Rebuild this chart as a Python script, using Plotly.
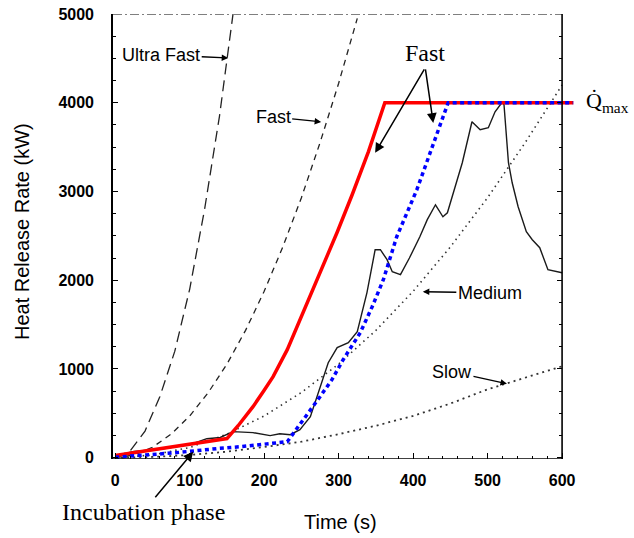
import plotly.graph_objects as go

# ---------------- data ----------------
t_ultra = [0, 20, 40, 60, 80, 100, 120, 140, 158]
q_ultra = [0, 75, 300, 690, 1200, 1900, 2800, 3850, 4990]

t_fast = [0, 25, 50, 75, 100, 125, 150, 175, 200, 225, 250, 275, 300, 325]
q_fast = [0, 30, 117, 265, 470, 735, 1055, 1435, 1875, 2375, 2930, 3550, 4220, 4950]

t_medium = [0, 50, 100, 150, 200, 250, 300, 350, 400, 450, 500, 550, 600]
q_medium = [0, 30, 115, 265, 470, 735, 1055, 1435, 1875, 2375, 2930, 3545, 4200]

t_slow = [0, 50, 100, 150, 200, 250, 300, 350, 400, 450, 500, 550, 600]
q_slow = [0, 8, 30, 68, 120, 180, 265, 360, 470, 610, 770, 900, 1030]

t_exp = [0, 15, 25, 60, 83, 105, 123, 141, 158, 185, 208, 221, 235, 248, 262, 275,
         286, 298, 313, 325, 338, 349, 356, 365, 372, 383, 395, 409, 419, 430, 440,
         446, 454, 466, 479, 490, 501, 510, 519, 522, 528, 533, 541, 552, 560, 570,
         581, 593, 600]
q_exp = [5, 50, 70, 95, 124, 160, 214, 228, 293, 282, 248, 270, 259, 315, 462, 800,
         1070, 1240, 1296, 1420, 1860, 2344, 2344, 2231, 2096, 2062, 2250, 2490, 2682,
         2850, 2715, 2760, 2986, 3324, 3786, 3696, 3718, 3898, 4000, 3980, 3324, 3098,
         2828, 2546, 2456, 2366, 2118, 2096, 2084]

t_red = [0, 150, 165, 185, 200, 212, 231, 252, 275, 298, 318, 340, 362, 615]
q_red = [25, 215, 360, 575, 760, 913, 1217, 1634, 2070, 2540, 2960, 3450, 4000, 4000]

t_blue = [0, 80, 140, 170, 231, 246, 259, 275, 291, 306, 329, 345, 360, 378, 405, 425, 447, 615]
q_blue = [5, 55, 105, 125, 180, 350, 507, 687, 879, 1104, 1408, 1701, 2005, 2490, 3020, 3500, 4000, 4000]

x_ticks = [0, 100, 200, 300, 400, 500, 600]
y_ticks = [0, 1000, 2000, 3000, 4000, 5000]

X_RANGE = [-3, 616]
Y_RANGE = [-15, 5000]
T_END = 600

SANS = "Liberation Sans, Arial, sans-serif"
SERIF = "Liberation Serif, Times New Roman, serif"

fig = go.Figure()

def add_line(x, y, color, width, dash):
    fig.add_trace(go.Scatter(x=x, y=y, mode="lines",
                             line=dict(color=color, width=width, dash=dash),
                             hoverinfo="skip", showlegend=False))

add_line(t_ultra, q_ultra, "#222222", 1.3, "11px,6px")
add_line(t_fast, q_fast, "#222222", 1.3, "6px,5px")
add_line(t_medium, q_medium, "#333333", 1.6, "1.5px,4px")
add_line(t_slow, q_slow, "#333333", 1.8, "2px,4px")
add_line(t_exp, q_exp, "#1a1a1a", 1.4, "solid")
add_line(t_red, q_red, "#ff0000", 3.5, "solid")
add_line(t_blue, q_blue, "#0000ff", 3.5, "4px,3.5px")

# frame (the box ends at t=600 while the red/blue lines run beyond it)
frame = dict(color="black", width=1.6)
fig.add_shape(type="line", xref="x", yref="y", x0=X_RANGE[0], x1=T_END, y0=Y_RANGE[0], y1=Y_RANGE[0], line=frame)
fig.add_shape(type="line", xref="x", yref="y", x0=T_END, x1=T_END, y0=Y_RANGE[0], y1=Y_RANGE[1], line=frame)
fig.add_shape(type="line", xref="x", yref="y", x0=X_RANGE[0], x1=T_END, y0=Y_RANGE[1], y1=Y_RANGE[1],
              line=dict(color="black", width=1.2, dash="9px,3px,2px,3px"))

right_pos = (T_END - X_RANGE[0]) / (X_RANGE[1] - X_RANGE[0])

fig.update_layout(
    width=634, height=538,
    margin=dict(l=113, r=60, t=14, b=79, autoexpand=False),
    paper_bgcolor="white", plot_bgcolor="white",
    showlegend=False,
    xaxis=dict(range=X_RANGE, tickvals=x_ticks, ticktext=[str(v) for v in x_ticks],
               automargin=False,
               showgrid=False, zeroline=False, showline=False,
               ticks="inside", ticklen=6, tickwidth=1.2, tickcolor="black",
               minor=dict(dtick=20, ticks="inside", ticklen=3, tickcolor="black", showgrid=False),
               tickfont=dict(family=SANS, size=16, color="black", weight="bold"),
               ticklabelstandoff=10),
    yaxis=dict(range=Y_RANGE, tickvals=y_ticks, ticktext=[str(v) for v in y_ticks],
               automargin=False,
               showgrid=False, zeroline=False, showline=True, linecolor="black", linewidth=1.6,
               ticks="inside", ticklen=5, tickwidth=1.2, tickcolor="black",
               minor=dict(dtick=250, ticks="inside", ticklen=3, tickcolor="black", showgrid=False),
               tickfont=dict(family=SANS, size=16, color="black", weight="bold"),
               ticklabelstandoff=14),
    yaxis2=dict(range=Y_RANGE, overlaying="y", anchor="free", position=right_pos, side="right",
                automargin=False,
                showgrid=False, zeroline=False, showline=False, showticklabels=False,
                tickvals=y_ticks, ticks="inside", ticklen=5, tickcolor="black",
                minor=dict(dtick=250, ticks="inside", ticklen=3, tickcolor="black", showgrid=False)),
)
# dummy trace to activate yaxis2 ticks
fig.add_trace(go.Scatter(x=[None], y=[None], yaxis="y2", showlegend=False, hoverinfo="skip"))

ann_font = dict(family=SANS, size=18, color="black")
serif_font = dict(family=SERIF, size=24, color="black")

def label(text, x, y, ax, ay, font=ann_font, head=2, size=1.0, width=1.3):
    fig.add_annotation(text=text, x=x, y=y, xref="x", yref="y", ax=ax, ay=ay,
                       showarrow=True, arrowhead=head, arrowsize=size, arrowwidth=width,
                       arrowcolor="black", font=font)

def paper_text(text, px, py, font, xanchor="center", angle=0):
    fig.add_annotation(text=text, x=(px - 113) / 461, y=(459 - py) / 445,
                       xref="paper", yref="paper", xanchor=xanchor, yanchor="middle",
                       textangle=angle, showarrow=False, font=font)

label("Ultra Fast", 151.7, 4505, -67, -3)
label("Fast", 276.5, 3784, -48, -5)
label("Medium", 413, 1870, 67, 1)
label("Slow", 526, 833, -55, -12)

# serif "Fast" with two arrows
paper_text("Fast", 425, 53, serif_font)
for tx, ty, ax, ay in [(349, 3435, 50, -85), (427, 3773, -8, -55)]:
    fig.add_annotation(text="", x=tx, y=ty, xref="x", yref="y", ax=ax, ay=ay,
                       showarrow=True, arrowhead=2, arrowsize=1.3, arrowwidth=1.5, arrowcolor="black")

label("Incubation phase", 104.7, 67, -50, 60, font=serif_font, size=1.3, width=1.5)

paper_text("Q\u0307<sub>max</sub>", 584, 102, dict(family=SERIF, size=22, color="black"), xanchor="left")
paper_text("Heat Release Rate (kW)", 22, 232, dict(family=SANS, size=20, color="black"), angle=-90)
paper_text("Time (s)", 340, 522, dict(family=SANS, size=20, color="black"))

fig.write_html("out.html", config={"displayModeBar": False},
               post_script="document.body.style.margin='0px';document.body.style.overflow='hidden';")
